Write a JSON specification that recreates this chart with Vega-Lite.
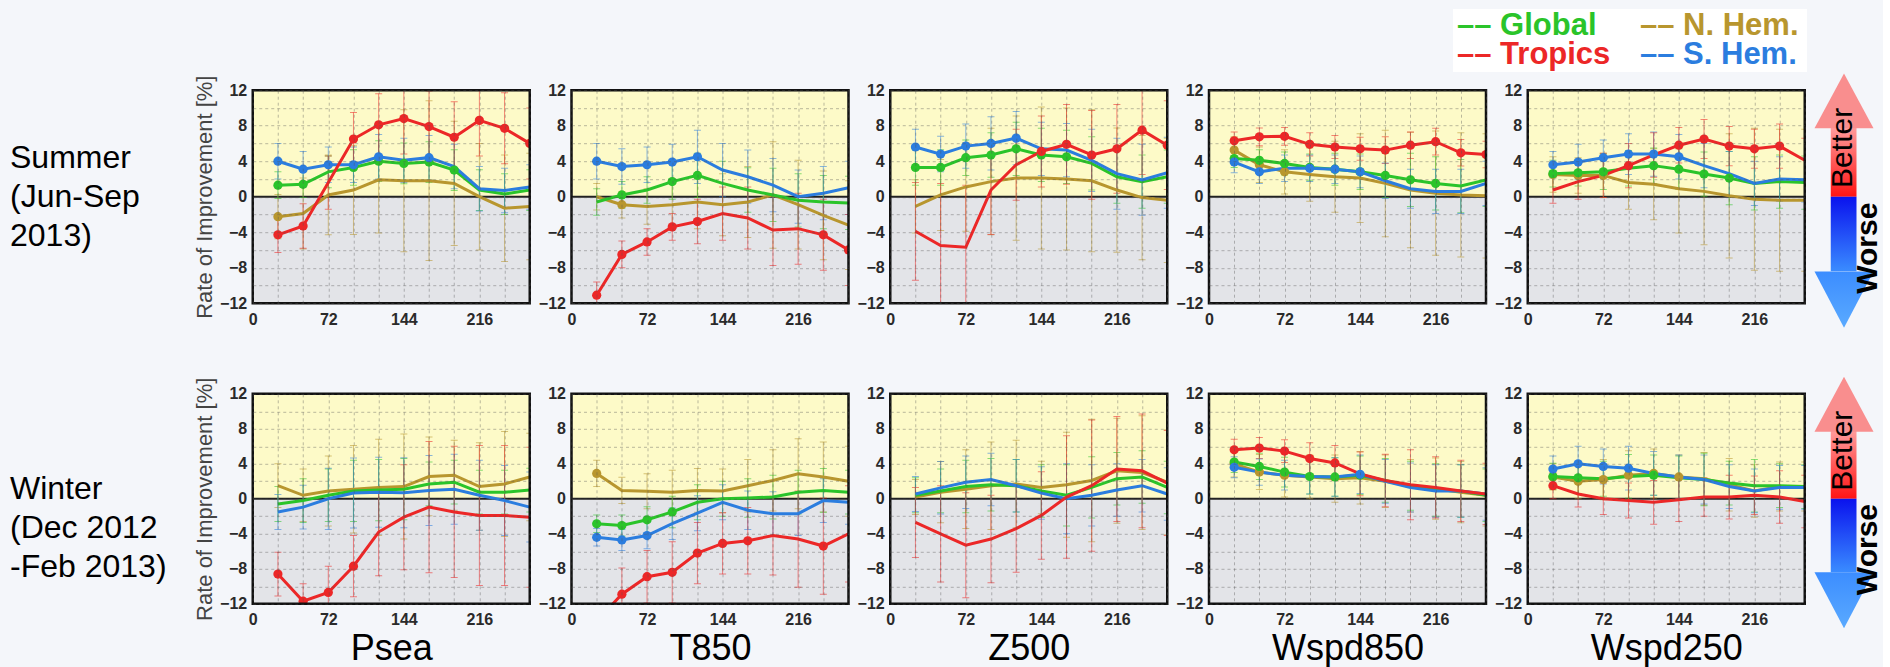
{
"$schema":"https://vega.github.io/schema/vega-lite/v6.json",
"padding":{"left":0,"top":9,"right":0,"bottom":0},
"background":"#f4f6fa",
"config":{"font":"Liberation Sans","view":{"stroke":null},
 "axis":{"labelFontSize":16,"labelFontWeight":"bold","labelColor":"#2a2a2a","labelFlush":false,"labelOverlap":false,"grid":true,"gridColor":"#555","gridOpacity":0.4,"gridDash":[3,3],"domain":false,"ticks":false,"zindex":1},
 "axisX":{"labelPadding":8,"titleFontSize":36,"titleFontWeight":"normal","titleColor":"#000","titlePadding":4},
 "axisY":{"labelPadding":6,"titleFontSize":22,"titleFontWeight":"normal","titleColor":"#444","titlePadding":3}},
"datasets":{
"leg":[{"r":"G","label":"\u2013\u2013 Global"},{"r":"N","label":"\u2013\u2013 N. Hem."},{"r":"T","label":"\u2013\u2013 Tropics"},{"r":"S","label":"\u2013\u2013 S. Hem."}],
"lab":[{"season":"Summer","txt":"Summer\n(Jun-Sep\n\u00a0\u00a02013)"},{"season":"Winter","txt":"Winter\n(Dec 2012\n-Feb 2013)"}],
"d":[
{"s":"S","p":"Psea","r":"N","t":24,"v":-2.25,"e":2.5,"m":1},{"s":"S","p":"Psea","r":"N","t":48,"v":-1.9,"e":4},{"s":"S","p":"Psea","r":"N","t":72,"v":0.2,"e":4.5},{"s":"S","p":"Psea","r":"N","t":96,"v":0.75,"e":5},{"s":"S","p":"Psea","r":"N","t":120,"v":1.9,"e":6},{"s":"S","p":"Psea","r":"N","t":144,"v":1.8,"e":8},{"s":"S","p":"Psea","r":"N","t":168,"v":1.8,"e":9},{"s":"S","p":"Psea","r":"N","t":192,"v":1.5,"e":7},{"s":"S","p":"Psea","r":"N","t":216,"v":0,"e":6},{"s":"S","p":"Psea","r":"N","t":240,"v":-1.3,"e":6},{"s":"S","p":"Psea","r":"N","t":264,"v":-1.1,"e":6},
{"s":"S","p":"Psea","r":"G","t":24,"v":1.3,"e":1.5,"m":1},{"s":"S","p":"Psea","r":"G","t":48,"v":1.4,"e":1.5,"m":1},{"s":"S","p":"Psea","r":"G","t":72,"v":2.8,"e":1.8},{"s":"S","p":"Psea","r":"G","t":96,"v":3.3,"e":2,"m":1},{"s":"S","p":"Psea","r":"G","t":120,"v":4.0,"e":2.3,"m":1},{"s":"S","p":"Psea","r":"G","t":144,"v":3.75,"e":2.3,"m":1},{"s":"S","p":"Psea","r":"G","t":168,"v":3.9,"e":2.3,"m":1},{"s":"S","p":"Psea","r":"G","t":192,"v":3.0,"e":2.3,"m":1},{"s":"S","p":"Psea","r":"G","t":216,"v":0.75,"e":2.3},{"s":"S","p":"Psea","r":"G","t":240,"v":0.3,"e":2.3},{"s":"S","p":"Psea","r":"G","t":264,"v":0.75,"e":2.3},
{"s":"S","p":"Psea","r":"S","t":24,"v":4.0,"e":2,"m":1},{"s":"S","p":"Psea","r":"S","t":48,"v":3.1,"e":2,"m":1},{"s":"S","p":"Psea","r":"S","t":72,"v":3.6,"e":2,"m":1},{"s":"S","p":"Psea","r":"S","t":96,"v":3.6,"e":2,"m":1},{"s":"S","p":"Psea","r":"S","t":120,"v":4.5,"e":2.5,"m":1},{"s":"S","p":"Psea","r":"S","t":144,"v":4.1,"e":2.5},{"s":"S","p":"Psea","r":"S","t":168,"v":4.4,"e":2.5,"m":1},{"s":"S","p":"Psea","r":"S","t":192,"v":3.4,"e":2.5},{"s":"S","p":"Psea","r":"S","t":216,"v":0.9,"e":2.5},{"s":"S","p":"Psea","r":"S","t":240,"v":0.7,"e":2.5},{"s":"S","p":"Psea","r":"S","t":264,"v":1.1,"e":2.5},
{"s":"S","p":"Psea","r":"T","t":24,"v":-4.3,"e":2,"m":1},{"s":"S","p":"Psea","r":"T","t":48,"v":-3.3,"e":2.5,"m":1},{"s":"S","p":"Psea","r":"T","t":72,"v":1.6,"e":3},{"s":"S","p":"Psea","r":"T","t":96,"v":6.5,"e":3,"m":1},{"s":"S","p":"Psea","r":"T","t":120,"v":8.1,"e":3.5,"m":1},{"s":"S","p":"Psea","r":"T","t":144,"v":8.8,"e":4,"m":1},{"s":"S","p":"Psea","r":"T","t":168,"v":7.9,"e":4,"m":1},{"s":"S","p":"Psea","r":"T","t":192,"v":6.7,"e":4,"m":1},{"s":"S","p":"Psea","r":"T","t":216,"v":8.6,"e":4,"m":1},{"s":"S","p":"Psea","r":"T","t":240,"v":7.7,"e":4,"m":1},{"s":"S","p":"Psea","r":"T","t":264,"v":6.0,"e":4,"m":1},

{"s":"S","p":"T850","r":"N","t":24,"v":0,"e":1.5},{"s":"S","p":"T850","r":"N","t":48,"v":-0.9,"e":1.5,"m":1},{"s":"S","p":"T850","r":"N","t":72,"v":-1.1,"e":2},{"s":"S","p":"T850","r":"N","t":96,"v":-0.9,"e":2.5},{"s":"S","p":"T850","r":"N","t":120,"v":-0.6,"e":3},{"s":"S","p":"T850","r":"N","t":144,"v":-0.9,"e":3.5},{"s":"S","p":"T850","r":"N","t":168,"v":-0.6,"e":4},{"s":"S","p":"T850","r":"N","t":192,"v":0.2,"e":6},{"s":"S","p":"T850","r":"N","t":216,"v":-0.9,"e":5},{"s":"S","p":"T850","r":"N","t":240,"v":-2.1,"e":5},{"s":"S","p":"T850","r":"N","t":264,"v":-3.2,"e":5},
{"s":"S","p":"T850","r":"G","t":24,"v":-0.6,"e":1.5},{"s":"S","p":"T850","r":"G","t":48,"v":0.2,"e":1.5,"m":1},{"s":"S","p":"T850","r":"G","t":72,"v":0.75,"e":1.5},{"s":"S","p":"T850","r":"G","t":96,"v":1.7,"e":2,"m":1},{"s":"S","p":"T850","r":"G","t":120,"v":2.4,"e":2.5,"m":1},{"s":"S","p":"T850","r":"G","t":144,"v":1.5,"e":2.5},{"s":"S","p":"T850","r":"G","t":168,"v":0.75,"e":2.5},{"s":"S","p":"T850","r":"G","t":192,"v":0.2,"e":3},{"s":"S","p":"T850","r":"G","t":216,"v":-0.4,"e":3},{"s":"S","p":"T850","r":"G","t":240,"v":-0.6,"e":3},{"s":"S","p":"T850","r":"G","t":264,"v":-0.7,"e":3},
{"s":"S","p":"T850","r":"S","t":24,"v":4.0,"e":2,"m":1},{"s":"S","p":"T850","r":"S","t":48,"v":3.4,"e":2,"m":1},{"s":"S","p":"T850","r":"S","t":72,"v":3.6,"e":2,"m":1},{"s":"S","p":"T850","r":"S","t":96,"v":3.9,"e":2,"m":1},{"s":"S","p":"T850","r":"S","t":120,"v":4.5,"e":3,"m":1},{"s":"S","p":"T850","r":"S","t":144,"v":3.0,"e":3},{"s":"S","p":"T850","r":"S","t":168,"v":2.25,"e":3},{"s":"S","p":"T850","r":"S","t":192,"v":1.3,"e":3},{"s":"S","p":"T850","r":"S","t":216,"v":0,"e":3},{"s":"S","p":"T850","r":"S","t":240,"v":0.4,"e":3},{"s":"S","p":"T850","r":"S","t":264,"v":1.0,"e":3},
{"s":"S","p":"T850","r":"T","t":24,"v":-11.1,"e":1.5,"m":1},{"s":"S","p":"T850","r":"T","t":48,"v":-6.5,"e":1.5,"m":1},{"s":"S","p":"T850","r":"T","t":72,"v":-5.1,"e":1.5,"m":1},{"s":"S","p":"T850","r":"T","t":96,"v":-3.4,"e":1.5,"m":1},{"s":"S","p":"T850","r":"T","t":120,"v":-2.8,"e":2.5,"m":1},{"s":"S","p":"T850","r":"T","t":144,"v":-1.9,"e":3},{"s":"S","p":"T850","r":"T","t":168,"v":-2.4,"e":3.5},{"s":"S","p":"T850","r":"T","t":192,"v":-3.75,"e":4},{"s":"S","p":"T850","r":"T","t":216,"v":-3.6,"e":4},{"s":"S","p":"T850","r":"T","t":240,"v":-4.3,"e":4,"m":1},{"s":"S","p":"T850","r":"T","t":264,"v":-6.0,"e":4,"m":1},

{"s":"S","p":"Z500","r":"N","t":24,"v":-1.1,"e":3},{"s":"S","p":"Z500","r":"N","t":48,"v":0.2,"e":4},{"s":"S","p":"Z500","r":"N","t":72,"v":1.1,"e":5},{"s":"S","p":"Z500","r":"N","t":96,"v":1.7,"e":6},{"s":"S","p":"Z500","r":"N","t":120,"v":2.1,"e":7},{"s":"S","p":"Z500","r":"N","t":144,"v":2.1,"e":8},{"s":"S","p":"Z500","r":"N","t":168,"v":2.0,"e":8},{"s":"S","p":"Z500","r":"N","t":192,"v":1.8,"e":8},{"s":"S","p":"Z500","r":"N","t":216,"v":0.75,"e":7},{"s":"S","p":"Z500","r":"N","t":240,"v":-0.1,"e":7},{"s":"S","p":"Z500","r":"N","t":264,"v":-0.4,"e":7},
{"s":"S","p":"Z500","r":"G","t":24,"v":3.3,"e":2,"m":1},{"s":"S","p":"Z500","r":"G","t":48,"v":3.3,"e":2,"m":1},{"s":"S","p":"Z500","r":"G","t":72,"v":4.4,"e":2,"m":1},{"s":"S","p":"Z500","r":"G","t":96,"v":4.7,"e":2.5,"m":1},{"s":"S","p":"Z500","r":"G","t":120,"v":5.4,"e":3,"m":1},{"s":"S","p":"Z500","r":"G","t":144,"v":4.7,"e":3,"m":1},{"s":"S","p":"Z500","r":"G","t":168,"v":4.5,"e":3,"m":1},{"s":"S","p":"Z500","r":"G","t":192,"v":3.75,"e":3},{"s":"S","p":"Z500","r":"G","t":216,"v":2.25,"e":3},{"s":"S","p":"Z500","r":"G","t":240,"v":1.7,"e":3},{"s":"S","p":"Z500","r":"G","t":264,"v":2.25,"e":3},
{"s":"S","p":"Z500","r":"S","t":24,"v":5.6,"e":2,"m":1},{"s":"S","p":"Z500","r":"S","t":48,"v":4.8,"e":2,"m":1},{"s":"S","p":"Z500","r":"S","t":72,"v":5.7,"e":2.5,"m":1},{"s":"S","p":"Z500","r":"S","t":96,"v":6.0,"e":3,"m":1},{"s":"S","p":"Z500","r":"S","t":120,"v":6.6,"e":3,"m":1},{"s":"S","p":"Z500","r":"S","t":144,"v":5.4,"e":3},{"s":"S","p":"Z500","r":"S","t":168,"v":5.25,"e":3},{"s":"S","p":"Z500","r":"S","t":192,"v":4.1,"e":3.5},{"s":"S","p":"Z500","r":"S","t":216,"v":2.6,"e":4},{"s":"S","p":"Z500","r":"S","t":240,"v":1.9,"e":4},{"s":"S","p":"Z500","r":"S","t":264,"v":2.7,"e":4},
{"s":"S","p":"Z500","r":"T","t":24,"v":-3.9,"e":5.5},{"s":"S","p":"Z500","r":"T","t":48,"v":-5.5,"e":7},{"s":"S","p":"Z500","r":"T","t":72,"v":-5.7,"e":7},{"s":"S","p":"Z500","r":"T","t":96,"v":0.75,"e":5},{"s":"S","p":"Z500","r":"T","t":120,"v":3.6,"e":4},{"s":"S","p":"Z500","r":"T","t":144,"v":5.1,"e":4,"m":1},{"s":"S","p":"Z500","r":"T","t":168,"v":5.9,"e":4.5,"m":1},{"s":"S","p":"Z500","r":"T","t":192,"v":4.7,"e":5,"m":1},{"s":"S","p":"Z500","r":"T","t":216,"v":5.4,"e":5,"m":1},{"s":"S","p":"Z500","r":"T","t":240,"v":7.5,"e":5,"m":1},{"s":"S","p":"Z500","r":"T","t":264,"v":5.8,"e":5,"m":1},

{"s":"S","p":"W850","r":"N","t":24,"v":5.25,"e":1.5,"m":1},{"s":"S","p":"W850","r":"N","t":48,"v":3.6,"e":2,"m":1},{"s":"S","p":"W850","r":"N","t":72,"v":2.8,"e":2.5,"m":1},{"s":"S","p":"W850","r":"N","t":96,"v":2.5,"e":3},{"s":"S","p":"W850","r":"N","t":120,"v":2.25,"e":4},{"s":"S","p":"W850","r":"N","t":144,"v":2.1,"e":5},{"s":"S","p":"W850","r":"N","t":168,"v":1.5,"e":6},{"s":"S","p":"W850","r":"N","t":192,"v":0.75,"e":6.5},{"s":"S","p":"W850","r":"N","t":216,"v":0.4,"e":7},{"s":"S","p":"W850","r":"N","t":240,"v":0.2,"e":7},{"s":"S","p":"W850","r":"N","t":264,"v":0.1,"e":7},
{"s":"S","p":"W850","r":"G","t":24,"v":4.3,"e":1,"m":1},{"s":"S","p":"W850","r":"G","t":48,"v":4.1,"e":1.2,"m":1},{"s":"S","p":"W850","r":"G","t":72,"v":3.75,"e":1.3,"m":1},{"s":"S","p":"W850","r":"G","t":96,"v":3.3,"e":1.5,"m":1},{"s":"S","p":"W850","r":"G","t":120,"v":3.1,"e":1.8,"m":1},{"s":"S","p":"W850","r":"G","t":144,"v":2.8,"e":2,"m":1},{"s":"S","p":"W850","r":"G","t":168,"v":2.4,"e":2.5,"m":1},{"s":"S","p":"W850","r":"G","t":192,"v":1.9,"e":3,"m":1},{"s":"S","p":"W850","r":"G","t":216,"v":1.5,"e":3,"m":1},{"s":"S","p":"W850","r":"G","t":240,"v":1.2,"e":3},{"s":"S","p":"W850","r":"G","t":264,"v":1.9,"e":3},
{"s":"S","p":"W850","r":"S","t":24,"v":3.9,"e":1.2,"m":1},{"s":"S","p":"W850","r":"S","t":48,"v":2.8,"e":1.3,"m":1},{"s":"S","p":"W850","r":"S","t":72,"v":3.2,"e":1.5},{"s":"S","p":"W850","r":"S","t":96,"v":3.2,"e":1.5,"m":1},{"s":"S","p":"W850","r":"S","t":120,"v":3.1,"e":1.6,"m":1},{"s":"S","p":"W850","r":"S","t":144,"v":2.8,"e":1.8,"m":1},{"s":"S","p":"W850","r":"S","t":168,"v":1.8,"e":2},{"s":"S","p":"W850","r":"S","t":192,"v":0.9,"e":2.2},{"s":"S","p":"W850","r":"S","t":216,"v":0.6,"e":2.5},{"s":"S","p":"W850","r":"S","t":240,"v":0.6,"e":2.5},{"s":"S","p":"W850","r":"S","t":264,"v":1.5,"e":2.5},
{"s":"S","p":"W850","r":"T","t":24,"v":6.3,"e":1,"m":1},{"s":"S","p":"W850","r":"T","t":48,"v":6.75,"e":1,"m":1},{"s":"S","p":"W850","r":"T","t":72,"v":6.8,"e":1,"m":1},{"s":"S","p":"W850","r":"T","t":96,"v":5.9,"e":1.3,"m":1},{"s":"S","p":"W850","r":"T","t":120,"v":5.6,"e":1.3,"m":1},{"s":"S","p":"W850","r":"T","t":144,"v":5.4,"e":1.3,"m":1},{"s":"S","p":"W850","r":"T","t":168,"v":5.25,"e":1.5,"m":1},{"s":"S","p":"W850","r":"T","t":192,"v":5.8,"e":1.5,"m":1},{"s":"S","p":"W850","r":"T","t":216,"v":6.2,"e":1.5,"m":1},{"s":"S","p":"W850","r":"T","t":240,"v":4.95,"e":1.5,"m":1},{"s":"S","p":"W850","r":"T","t":264,"v":4.75,"e":1.5,"m":1},

{"s":"S","p":"W250","r":"N","t":24,"v":2.5,"e":2,"m":1},{"s":"S","p":"W250","r":"N","t":48,"v":2.4,"e":2,"m":1},{"s":"S","p":"W250","r":"N","t":72,"v":2.4,"e":2.5,"m":1},{"s":"S","p":"W250","r":"N","t":96,"v":1.6,"e":3},{"s":"S","p":"W250","r":"N","t":120,"v":1.4,"e":4},{"s":"S","p":"W250","r":"N","t":144,"v":0.9,"e":5},{"s":"S","p":"W250","r":"N","t":168,"v":0.6,"e":6},{"s":"S","p":"W250","r":"N","t":192,"v":0.1,"e":7},{"s":"S","p":"W250","r":"N","t":216,"v":-0.3,"e":8},{"s":"S","p":"W250","r":"N","t":240,"v":-0.4,"e":8},{"s":"S","p":"W250","r":"N","t":264,"v":-0.4,"e":8},
{"s":"S","p":"W250","r":"G","t":24,"v":2.6,"e":1.5,"m":1},{"s":"S","p":"W250","r":"G","t":48,"v":2.7,"e":1.5,"m":1},{"s":"S","p":"W250","r":"G","t":72,"v":2.8,"e":2,"m":1},{"s":"S","p":"W250","r":"G","t":96,"v":3.2,"e":2},{"s":"S","p":"W250","r":"G","t":120,"v":3.5,"e":2,"m":1},{"s":"S","p":"W250","r":"G","t":144,"v":3.1,"e":2.3,"m":1},{"s":"S","p":"W250","r":"G","t":168,"v":2.55,"e":2.5,"m":1},{"s":"S","p":"W250","r":"G","t":192,"v":2.1,"e":3,"m":1},{"s":"S","p":"W250","r":"G","t":216,"v":1.5,"e":3},{"s":"S","p":"W250","r":"G","t":240,"v":1.7,"e":3},{"s":"S","p":"W250","r":"G","t":264,"v":1.6,"e":3},
{"s":"S","p":"W250","r":"S","t":24,"v":3.6,"e":1.5,"m":1},{"s":"S","p":"W250","r":"S","t":48,"v":3.9,"e":2,"m":1},{"s":"S","p":"W250","r":"S","t":72,"v":4.4,"e":2,"m":1},{"s":"S","p":"W250","r":"S","t":96,"v":4.8,"e":2.3,"m":1},{"s":"S","p":"W250","r":"S","t":120,"v":4.8,"e":2.5,"m":1},{"s":"S","p":"W250","r":"S","t":144,"v":4.5,"e":2.5,"m":1},{"s":"S","p":"W250","r":"S","t":168,"v":3.5,"e":2.5},{"s":"S","p":"W250","r":"S","t":192,"v":2.6,"e":2.5},{"s":"S","p":"W250","r":"S","t":216,"v":1.5,"e":2.5},{"s":"S","p":"W250","r":"S","t":240,"v":2.0,"e":2.5},{"s":"S","p":"W250","r":"S","t":264,"v":1.9,"e":2.5},
{"s":"S","p":"W250","r":"T","t":24,"v":0.75,"e":1.5},{"s":"S","p":"W250","r":"T","t":48,"v":1.7,"e":2},{"s":"S","p":"W250","r":"T","t":72,"v":2.4,"e":2.5},{"s":"S","p":"W250","r":"T","t":96,"v":3.5,"e":2.5,"m":1},{"s":"S","p":"W250","r":"T","t":120,"v":4.7,"e":2.5},{"s":"S","p":"W250","r":"T","t":144,"v":5.8,"e":2,"m":1},{"s":"S","p":"W250","r":"T","t":168,"v":6.5,"e":2.2,"m":1},{"s":"S","p":"W250","r":"T","t":192,"v":5.7,"e":2.2,"m":1},{"s":"S","p":"W250","r":"T","t":216,"v":5.4,"e":2.2,"m":1},{"s":"S","p":"W250","r":"T","t":240,"v":5.7,"e":2.5,"m":1},{"s":"S","p":"W250","r":"T","t":264,"v":4.1,"e":2.5},

{"s":"W","p":"Psea","r":"N","t":24,"v":1.5,"e":2.5},{"s":"W","p":"Psea","r":"N","t":48,"v":0.4,"e":3},{"s":"W","p":"Psea","r":"N","t":72,"v":0.9,"e":4},{"s":"W","p":"Psea","r":"N","t":96,"v":1.1,"e":5},{"s":"W","p":"Psea","r":"N","t":120,"v":1.3,"e":5.5},{"s":"W","p":"Psea","r":"N","t":144,"v":1.4,"e":6},{"s":"W","p":"Psea","r":"N","t":168,"v":2.55,"e":4.5},{"s":"W","p":"Psea","r":"N","t":192,"v":2.7,"e":4},{"s":"W","p":"Psea","r":"N","t":216,"v":1.4,"e":5},{"s":"W","p":"Psea","r":"N","t":240,"v":1.7,"e":6},{"s":"W","p":"Psea","r":"N","t":264,"v":2.5,"e":5},
{"s":"W","p":"Psea","r":"G","t":24,"v":-0.6,"e":2},{"s":"W","p":"Psea","r":"G","t":48,"v":-0.2,"e":2.5},{"s":"W","p":"Psea","r":"G","t":72,"v":0.4,"e":3},{"s":"W","p":"Psea","r":"G","t":96,"v":0.9,"e":3.5},{"s":"W","p":"Psea","r":"G","t":120,"v":1.0,"e":3.5},{"s":"W","p":"Psea","r":"G","t":144,"v":1.1,"e":3.5},{"s":"W","p":"Psea","r":"G","t":168,"v":1.7,"e":2.5},{"s":"W","p":"Psea","r":"G","t":192,"v":1.9,"e":2.5},{"s":"W","p":"Psea","r":"G","t":216,"v":0.75,"e":2.5},{"s":"W","p":"Psea","r":"G","t":240,"v":0.75,"e":2.5},{"s":"W","p":"Psea","r":"G","t":264,"v":1.0,"e":2.5},
{"s":"W","p":"Psea","r":"S","t":24,"v":-1.5,"e":2},{"s":"W","p":"Psea","r":"S","t":48,"v":-0.95,"e":2.5},{"s":"W","p":"Psea","r":"S","t":72,"v":0,"e":3.5},{"s":"W","p":"Psea","r":"S","t":96,"v":0.65,"e":4},{"s":"W","p":"Psea","r":"S","t":120,"v":0.75,"e":4},{"s":"W","p":"Psea","r":"S","t":144,"v":0.7,"e":4},{"s":"W","p":"Psea","r":"S","t":168,"v":0.95,"e":4},{"s":"W","p":"Psea","r":"S","t":192,"v":1.1,"e":4},{"s":"W","p":"Psea","r":"S","t":216,"v":0.4,"e":4},{"s":"W","p":"Psea","r":"S","t":240,"v":-0.2,"e":4},{"s":"W","p":"Psea","r":"S","t":264,"v":-0.95,"e":4},
{"s":"W","p":"Psea","r":"T","t":24,"v":-8.6,"e":2.5,"m":1},{"s":"W","p":"Psea","r":"T","t":48,"v":-11.7,"e":2,"m":1},{"s":"W","p":"Psea","r":"T","t":72,"v":-10.7,"e":3,"m":1},{"s":"W","p":"Psea","r":"T","t":96,"v":-7.7,"e":3.5,"m":1},{"s":"W","p":"Psea","r":"T","t":120,"v":-3.8,"e":5},{"s":"W","p":"Psea","r":"T","t":144,"v":-2.1,"e":6},{"s":"W","p":"Psea","r":"T","t":168,"v":-0.95,"e":7.5},{"s":"W","p":"Psea","r":"T","t":192,"v":-1.5,"e":7.5},{"s":"W","p":"Psea","r":"T","t":216,"v":-1.9,"e":8},{"s":"W","p":"Psea","r":"T","t":240,"v":-1.9,"e":8},{"s":"W","p":"Psea","r":"T","t":264,"v":-2.1,"e":8},

{"s":"W","p":"T850","r":"N","t":24,"v":2.9,"e":1.5,"m":1},{"s":"W","p":"T850","r":"N","t":48,"v":0.95,"e":1.5},{"s":"W","p":"T850","r":"N","t":72,"v":0.85,"e":2},{"s":"W","p":"T850","r":"N","t":96,"v":0.75,"e":2.5},{"s":"W","p":"T850","r":"N","t":120,"v":0.95,"e":2.5},{"s":"W","p":"T850","r":"N","t":144,"v":0.9,"e":2.5},{"s":"W","p":"T850","r":"N","t":168,"v":1.5,"e":3},{"s":"W","p":"T850","r":"N","t":192,"v":2.1,"e":3.5},{"s":"W","p":"T850","r":"N","t":216,"v":2.85,"e":4},{"s":"W","p":"T850","r":"N","t":240,"v":2.5,"e":4},{"s":"W","p":"T850","r":"N","t":264,"v":2.0,"e":4},
{"s":"W","p":"T850","r":"G","t":24,"v":-2.85,"e":1,"m":1},{"s":"W","p":"T850","r":"G","t":48,"v":-3.05,"e":1.2,"m":1},{"s":"W","p":"T850","r":"G","t":72,"v":-2.4,"e":1.5,"m":1},{"s":"W","p":"T850","r":"G","t":96,"v":-1.5,"e":1.8,"m":1},{"s":"W","p":"T850","r":"G","t":120,"v":-0.4,"e":2},{"s":"W","p":"T850","r":"G","t":144,"v":0,"e":2},{"s":"W","p":"T850","r":"G","t":168,"v":0.1,"e":2.2},{"s":"W","p":"T850","r":"G","t":192,"v":0.2,"e":2.5},{"s":"W","p":"T850","r":"G","t":216,"v":0.75,"e":2.5},{"s":"W","p":"T850","r":"G","t":240,"v":0.95,"e":2.5},{"s":"W","p":"T850","r":"G","t":264,"v":0.75,"e":2.5},
{"s":"W","p":"T850","r":"S","t":24,"v":-4.4,"e":1,"m":1},{"s":"W","p":"T850","r":"S","t":48,"v":-4.7,"e":1.2,"m":1},{"s":"W","p":"T850","r":"S","t":72,"v":-4.2,"e":1.5,"m":1},{"s":"W","p":"T850","r":"S","t":96,"v":-2.85,"e":1.8},{"s":"W","p":"T850","r":"S","t":120,"v":-1.65,"e":2},{"s":"W","p":"T850","r":"S","t":144,"v":-0.4,"e":2},{"s":"W","p":"T850","r":"S","t":168,"v":-1.3,"e":2.2},{"s":"W","p":"T850","r":"S","t":192,"v":-1.7,"e":2.5},{"s":"W","p":"T850","r":"S","t":216,"v":-1.7,"e":2.5},{"s":"W","p":"T850","r":"S","t":240,"v":-0.2,"e":2.5},{"s":"W","p":"T850","r":"S","t":264,"v":-0.4,"e":2.5},
{"s":"W","p":"T850","r":"T","t":24,"v":-14,"e":2},{"s":"W","p":"T850","r":"T","t":48,"v":-10.9,"e":3,"m":1},{"s":"W","p":"T850","r":"T","t":72,"v":-8.9,"e":3,"m":1},{"s":"W","p":"T850","r":"T","t":96,"v":-8.4,"e":3.5,"m":1},{"s":"W","p":"T850","r":"T","t":120,"v":-6.2,"e":3.5,"m":1},{"s":"W","p":"T850","r":"T","t":144,"v":-5.1,"e":3.5,"m":1},{"s":"W","p":"T850","r":"T","t":168,"v":-4.8,"e":3.8,"m":1},{"s":"W","p":"T850","r":"T","t":192,"v":-4.2,"e":4.5},{"s":"W","p":"T850","r":"T","t":216,"v":-4.6,"e":5.5},{"s":"W","p":"T850","r":"T","t":240,"v":-5.4,"e":5.5,"m":1},{"s":"W","p":"T850","r":"T","t":264,"v":-4.0,"e":5.5},

{"s":"W","p":"Z500","r":"N","t":24,"v":0.2,"e":2},{"s":"W","p":"Z500","r":"N","t":48,"v":0.75,"e":3.5},{"s":"W","p":"Z500","r":"N","t":72,"v":1.1,"e":4.5},{"s":"W","p":"Z500","r":"N","t":96,"v":1.5,"e":5},{"s":"W","p":"Z500","r":"N","t":120,"v":1.7,"e":5},{"s":"W","p":"Z500","r":"N","t":144,"v":1.3,"e":3},{"s":"W","p":"Z500","r":"N","t":168,"v":1.6,"e":6},{"s":"W","p":"Z500","r":"N","t":192,"v":2.1,"e":7},{"s":"W","p":"Z500","r":"N","t":216,"v":3.2,"e":6},{"s":"W","p":"Z500","r":"N","t":240,"v":3.0,"e":6.5},{"s":"W","p":"Z500","r":"N","t":264,"v":1.9,"e":6},
{"s":"W","p":"Z500","r":"G","t":24,"v":0.4,"e":2},{"s":"W","p":"Z500","r":"G","t":48,"v":0.9,"e":2.5},{"s":"W","p":"Z500","r":"G","t":72,"v":1.4,"e":3},{"s":"W","p":"Z500","r":"G","t":96,"v":1.6,"e":3},{"s":"W","p":"Z500","r":"G","t":120,"v":1.5,"e":3},{"s":"W","p":"Z500","r":"G","t":144,"v":0.9,"e":3},{"s":"W","p":"Z500","r":"G","t":168,"v":0.4,"e":3.5},{"s":"W","p":"Z500","r":"G","t":192,"v":1.3,"e":3.5},{"s":"W","p":"Z500","r":"G","t":216,"v":2.3,"e":3},{"s":"W","p":"Z500","r":"G","t":240,"v":2.5,"e":3},{"s":"W","p":"Z500","r":"G","t":264,"v":1.3,"e":3},
{"s":"W","p":"Z500","r":"S","t":24,"v":0.55,"e":2},{"s":"W","p":"Z500","r":"S","t":48,"v":1.25,"e":3},{"s":"W","p":"Z500","r":"S","t":72,"v":1.9,"e":3},{"s":"W","p":"Z500","r":"S","t":96,"v":2.2,"e":3},{"s":"W","p":"Z500","r":"S","t":120,"v":1.5,"e":3},{"s":"W","p":"Z500","r":"S","t":144,"v":0.65,"e":3},{"s":"W","p":"Z500","r":"S","t":168,"v":0,"e":4},{"s":"W","p":"Z500","r":"S","t":192,"v":0.4,"e":3.5},{"s":"W","p":"Z500","r":"S","t":216,"v":1.0,"e":3},{"s":"W","p":"Z500","r":"S","t":240,"v":1.5,"e":3},{"s":"W","p":"Z500","r":"S","t":264,"v":0.55,"e":3},
{"s":"W","p":"Z500","r":"T","t":24,"v":-2.7,"e":4},{"s":"W","p":"Z500","r":"T","t":48,"v":-4.0,"e":5.5},{"s":"W","p":"Z500","r":"T","t":72,"v":-5.3,"e":6},{"s":"W","p":"Z500","r":"T","t":96,"v":-4.6,"e":5},{"s":"W","p":"Z500","r":"T","t":120,"v":-3.4,"e":5},{"s":"W","p":"Z500","r":"T","t":144,"v":-1.9,"e":5},{"s":"W","p":"Z500","r":"T","t":168,"v":0.2,"e":7},{"s":"W","p":"Z500","r":"T","t":192,"v":1.5,"e":7.5},{"s":"W","p":"Z500","r":"T","t":216,"v":3.4,"e":6},{"s":"W","p":"Z500","r":"T","t":240,"v":3.2,"e":6.5},{"s":"W","p":"Z500","r":"T","t":264,"v":1.8,"e":6},

{"s":"W","p":"W850","r":"N","t":24,"v":4.0,"e":1.5,"m":1},{"s":"W","p":"W850","r":"N","t":48,"v":3.05,"e":2,"m":1},{"s":"W","p":"W850","r":"N","t":72,"v":2.7,"e":2.5,"m":1},{"s":"W","p":"W850","r":"N","t":96,"v":2.5,"e":2.5},{"s":"W","p":"W850","r":"N","t":120,"v":2.3,"e":2.7},{"s":"W","p":"W850","r":"N","t":144,"v":2.4,"e":3},{"s":"W","p":"W850","r":"N","t":168,"v":2.0,"e":3},{"s":"W","p":"W850","r":"N","t":192,"v":1.5,"e":3},{"s":"W","p":"W850","r":"N","t":216,"v":1.15,"e":3.5},{"s":"W","p":"W850","r":"N","t":240,"v":0.75,"e":3.5},{"s":"W","p":"W850","r":"N","t":264,"v":0.4,"e":3.5},
{"s":"W","p":"W850","r":"G","t":24,"v":4.2,"e":1.2,"m":1},{"s":"W","p":"W850","r":"G","t":48,"v":3.7,"e":1.5,"m":1},{"s":"W","p":"W850","r":"G","t":72,"v":3.05,"e":1.7,"m":1},{"s":"W","p":"W850","r":"G","t":96,"v":2.55,"e":2,"m":1},{"s":"W","p":"W850","r":"G","t":120,"v":2.5,"e":2.2,"m":1},{"s":"W","p":"W850","r":"G","t":144,"v":2.7,"e":2.2,"m":1},{"s":"W","p":"W850","r":"G","t":168,"v":2.1,"e":2.5},{"s":"W","p":"W850","r":"G","t":192,"v":1.5,"e":2.8},{"s":"W","p":"W850","r":"G","t":216,"v":1.0,"e":3},{"s":"W","p":"W850","r":"G","t":240,"v":0.9,"e":3},{"s":"W","p":"W850","r":"G","t":264,"v":0.4,"e":3},
{"s":"W","p":"W850","r":"S","t":24,"v":3.6,"e":1.2,"m":1},{"s":"W","p":"W850","r":"S","t":48,"v":3.05,"e":1.5},{"s":"W","p":"W850","r":"S","t":72,"v":2.7,"e":1.7},{"s":"W","p":"W850","r":"S","t":96,"v":2.55,"e":2},{"s":"W","p":"W850","r":"S","t":120,"v":2.5,"e":2.2},{"s":"W","p":"W850","r":"S","t":144,"v":2.8,"e":2.2,"m":1},{"s":"W","p":"W850","r":"S","t":168,"v":2.0,"e":2.5},{"s":"W","p":"W850","r":"S","t":192,"v":1.3,"e":2.8},{"s":"W","p":"W850","r":"S","t":216,"v":0.9,"e":3},{"s":"W","p":"W850","r":"S","t":240,"v":0.9,"e":3},{"s":"W","p":"W850","r":"S","t":264,"v":0.55,"e":3},
{"s":"W","p":"W850","r":"T","t":24,"v":5.6,"e":1.2,"m":1},{"s":"W","p":"W850","r":"T","t":48,"v":5.8,"e":1.2,"m":1},{"s":"W","p":"W850","r":"T","t":72,"v":5.45,"e":1.3,"m":1},{"s":"W","p":"W850","r":"T","t":96,"v":4.6,"e":1.8,"m":1},{"s":"W","p":"W850","r":"T","t":120,"v":4.1,"e":2,"m":1},{"s":"W","p":"W850","r":"T","t":144,"v":2.85,"e":2.5},{"s":"W","p":"W850","r":"T","t":168,"v":2.1,"e":3},{"s":"W","p":"W850","r":"T","t":192,"v":1.6,"e":4},{"s":"W","p":"W850","r":"T","t":216,"v":1.3,"e":3.5},{"s":"W","p":"W850","r":"T","t":240,"v":0.9,"e":3.5},{"s":"W","p":"W850","r":"T","t":264,"v":0.55,"e":3.5},

{"s":"W","p":"W250","r":"N","t":24,"v":2.5,"e":1.5,"m":1},{"s":"W","p":"W250","r":"N","t":48,"v":2.0,"e":2,"m":1},{"s":"W","p":"W250","r":"N","t":72,"v":2.2,"e":2.3,"m":1},{"s":"W","p":"W250","r":"N","t":96,"v":2.7,"e":2.8,"m":1},{"s":"W","p":"W250","r":"N","t":120,"v":2.9,"e":2.8,"m":1},{"s":"W","p":"W250","r":"N","t":144,"v":2.5,"e":2.5,"m":1},{"s":"W","p":"W250","r":"N","t":168,"v":2.3,"e":3},{"s":"W","p":"W250","r":"N","t":192,"v":1.6,"e":3},{"s":"W","p":"W250","r":"N","t":216,"v":0.9,"e":3},{"s":"W","p":"W250","r":"N","t":240,"v":1.4,"e":2.8},{"s":"W","p":"W250","r":"N","t":264,"v":1.4,"e":2.8},
{"s":"W","p":"W250","r":"G","t":24,"v":2.55,"e":1.5,"m":1},{"s":"W","p":"W250","r":"G","t":48,"v":2.4,"e":1.8,"m":1},{"s":"W","p":"W250","r":"G","t":72,"v":2.3,"e":2},{"s":"W","p":"W250","r":"G","t":96,"v":2.55,"e":2.5},{"s":"W","p":"W250","r":"G","t":120,"v":2.7,"e":2.3,"m":1},{"s":"W","p":"W250","r":"G","t":144,"v":2.4,"e":2.5},{"s":"W","p":"W250","r":"G","t":168,"v":2.2,"e":3},{"s":"W","p":"W250","r":"G","t":192,"v":1.8,"e":2.5},{"s":"W","p":"W250","r":"G","t":216,"v":1.5,"e":3},{"s":"W","p":"W250","r":"G","t":240,"v":1.5,"e":2.5},{"s":"W","p":"W250","r":"G","t":264,"v":1.4,"e":2.5},
{"s":"W","p":"W250","r":"S","t":24,"v":3.4,"e":1.5,"m":1},{"s":"W","p":"W250","r":"S","t":48,"v":4.0,"e":2,"m":1},{"s":"W","p":"W250","r":"S","t":72,"v":3.7,"e":2,"m":1},{"s":"W","p":"W250","r":"S","t":96,"v":3.5,"e":2.5,"m":1},{"s":"W","p":"W250","r":"S","t":120,"v":2.9,"e":2.5},{"s":"W","p":"W250","r":"S","t":144,"v":2.5,"e":2.5},{"s":"W","p":"W250","r":"S","t":168,"v":2.2,"e":2.8},{"s":"W","p":"W250","r":"S","t":192,"v":1.4,"e":2.5},{"s":"W","p":"W250","r":"S","t":216,"v":0.9,"e":2.5},{"s":"W","p":"W250","r":"S","t":240,"v":1.3,"e":2.5},{"s":"W","p":"W250","r":"S","t":264,"v":1.3,"e":2.5},
{"s":"W","p":"W250","r":"T","t":24,"v":1.5,"e":1.5,"m":1},{"s":"W","p":"W250","r":"T","t":48,"v":0.55,"e":1.5},{"s":"W","p":"W250","r":"T","t":72,"v":0,"e":1.8},{"s":"W","p":"W250","r":"T","t":96,"v":-0.2,"e":2},{"s":"W","p":"W250","r":"T","t":120,"v":-0.4,"e":2.5},{"s":"W","p":"W250","r":"T","t":144,"v":-0.1,"e":2.5},{"s":"W","p":"W250","r":"T","t":168,"v":0.2,"e":2.2},{"s":"W","p":"W250","r":"T","t":192,"v":0.2,"e":2.5},{"s":"W","p":"W250","r":"T","t":216,"v":0.4,"e":2.2},{"s":"W","p":"W250","r":"T","t":240,"v":0.2,"e":3},{"s":"W","p":"W250","r":"T","t":264,"v":-0.3,"e":3}
]},
"vconcat":[
{"hconcat":[
 {"width":1453,"height":63,"view":{"fill":"#f4f6fa"},"data":{"values":[{}]},"mark":{"type":"text","text":""}},
 {"width":177,"height":63,"view":{"fill":"white"},"data":{"name":"leg"},"transform":[{"filter":"datum.r=='G'||datum.r=='T'"}],
  "mark":{"type":"text","align":"left","baseline":"alphabetic","fontSize":31,"fontWeight":"bold","dx":4,"dy":9},
  "encoding":{"x":{"datum":0,"type":"quantitative","scale":{"domain":[0,1]},"axis":null},"y":{"field":"r","type":"nominal","scale":{"type":"point","domain":["G","T"],"padding":0.6},"axis":null},"text":{"field":"label"},"color":{"field":"r","type":"nominal","scale":{"domain":["G","T","N","S"],"range":["#2ac42a","#ec2727","#b8962e","#2b7ddf"]},"legend":null}}},
 {"width":177,"height":63,"view":{"fill":"white"},"data":{"name":"leg"},"transform":[{"filter":"datum.r=='N'||datum.r=='S'"}],
  "mark":{"type":"text","align":"left","baseline":"alphabetic","fontSize":31,"fontWeight":"bold","dx":10,"dy":9},
  "encoding":{"x":{"datum":0,"type":"quantitative","scale":{"domain":[0,1]},"axis":null},"y":{"field":"r","type":"nominal","scale":{"type":"point","domain":["N","S"],"padding":0.6},"axis":null},"text":{"field":"label"},"color":{"field":"r","type":"nominal","scale":{"domain":["G","T","N","S"],"range":["#2ac42a","#ec2727","#b8962e","#2b7ddf"]},"legend":null}}}
],"spacing":0,"bounds":"flush"},
{"vconcat":[
 {"hconcat":[
 {"width":210.25,"height":213,"view":{"fill":"#f4f6fa"},"data":{"name":"lab"},"transform":[{"filter":"datum.season=='Summer'"}],
  "mark":{"type":"text","align":"left","baseline":"middle","fontSize":32,"lineHeight":39,"lineBreak":"\n","dx":10,"dy":-39,"color":"#000"},
  "encoding":{"x":{"datum":0,"type":"quantitative","scale":{"domain":[0,1]},"axis":null},"text":{"field":"txt"}}},
{"width":277,"height":213,"layer":[
{"data":{"values":[{}]},"mark":{"type":"rect","fill":"#fdfac8"},"encoding":{"x":{"datum":0,"type":"quantitative"},"x2":{"datum":264},"y":{"datum":12,"type":"quantitative"},"y2":{"datum":0}}},
{"data":{"values":[{}]},"mark":{"type":"rect","fill":"#e3e4e8"},"encoding":{"x":{"datum":0,"type":"quantitative"},"x2":{"datum":264},"y":{"datum":0,"type":"quantitative"},"y2":{"datum":-12}}},
{"data":{"values":[{}]},"mark":{"type":"rule","color":"#222","strokeWidth":2},"encoding":{"x":{"datum":0,"type":"quantitative"},"x2":{"datum":264},"y":{"datum":0,"type":"quantitative"}}},
{"data":{"name":"d"},"transform":[{"filter":"datum.s=='S'&&datum.p=='Psea'"}],
"encoding":{"x":{"field":"t","type":"quantitative","scale":{"domain":[0,264],"nice":false,"zero":false},"axis":{"values":[0,24,48,72,96,120,144,168,192,216,240,264],"tickCount":100,"format":"d","labelExpr":"datum.value%72==0?datum.label:''","title":null,"labelOverlap":false,"grid":true,"zindex":1,"labelFlush":false}},
"y":{"field":"v","type":"quantitative","scale":{"domain":[-12,12],"nice":false,"zero":false},"axis":{"values":[-12,-10,-8,-6,-4,-2,0,2,4,6,8,10,12],"tickCount":100,"format":"d","labelExpr":"datum.value%4==0?datum.label:''","title":"Rate of Improvement [%]","labelOverlap":false,"grid":true,"zindex":1}},
"color":{"field":"r","type":"nominal","scale":{"domain":["G","T","N","S"],"range":["#2ac42a","#ec2727","#b8962e","#2b7ddf"]},"legend":null}},
"layer":[
{"mark":{"type":"errorbar","ticks":true,"size":7,"thickness":1,"opacity":0.55,"clip":true},"encoding":{"yError":{"field":"e"}}},
{"mark":{"type":"line","strokeWidth":3,"clip":true}},
{"transform":[{"filter":"datum.m==1"}],"mark":{"type":"circle","size":85,"opacity":1,"clip":true}}]},
{"data":{"values":[{}]},"mark":{"type":"rect","fill":null,"stroke":"#111","strokeWidth":2.5},"encoding":{"x":{"datum":0,"type":"quantitative"},"x2":{"datum":264},"y":{"datum":-12,"type":"quantitative"},"y2":{"datum":12}}}
]},
{"width":277,"height":213,"layer":[
{"data":{"values":[{}]},"mark":{"type":"rect","fill":"#fdfac8"},"encoding":{"x":{"datum":0,"type":"quantitative"},"x2":{"datum":264},"y":{"datum":12,"type":"quantitative"},"y2":{"datum":0}}},
{"data":{"values":[{}]},"mark":{"type":"rect","fill":"#e3e4e8"},"encoding":{"x":{"datum":0,"type":"quantitative"},"x2":{"datum":264},"y":{"datum":0,"type":"quantitative"},"y2":{"datum":-12}}},
{"data":{"values":[{}]},"mark":{"type":"rule","color":"#222","strokeWidth":2},"encoding":{"x":{"datum":0,"type":"quantitative"},"x2":{"datum":264},"y":{"datum":0,"type":"quantitative"}}},
{"data":{"name":"d"},"transform":[{"filter":"datum.s=='S'&&datum.p=='T850'"}],
"encoding":{"x":{"field":"t","type":"quantitative","scale":{"domain":[0,264],"nice":false,"zero":false},"axis":{"values":[0,24,48,72,96,120,144,168,192,216,240,264],"tickCount":100,"format":"d","labelExpr":"datum.value%72==0?datum.label:''","title":null,"labelOverlap":false,"grid":true,"zindex":1,"labelFlush":false}},
"y":{"field":"v","type":"quantitative","scale":{"domain":[-12,12],"nice":false,"zero":false},"axis":{"values":[-12,-10,-8,-6,-4,-2,0,2,4,6,8,10,12],"tickCount":100,"format":"d","labelExpr":"datum.value%4==0?datum.label:''","title":null,"labelOverlap":false,"grid":true,"zindex":1}},
"color":{"field":"r","type":"nominal","scale":{"domain":["G","T","N","S"],"range":["#2ac42a","#ec2727","#b8962e","#2b7ddf"]},"legend":null}},
"layer":[
{"mark":{"type":"errorbar","ticks":true,"size":7,"thickness":1,"opacity":0.55,"clip":true},"encoding":{"yError":{"field":"e"}}},
{"mark":{"type":"line","strokeWidth":3,"clip":true}},
{"transform":[{"filter":"datum.m==1"}],"mark":{"type":"circle","size":85,"opacity":1,"clip":true}}]},
{"data":{"values":[{}]},"mark":{"type":"rect","fill":null,"stroke":"#111","strokeWidth":2.5},"encoding":{"x":{"datum":0,"type":"quantitative"},"x2":{"datum":264},"y":{"datum":-12,"type":"quantitative"},"y2":{"datum":12}}}
]},
{"width":277,"height":213,"layer":[
{"data":{"values":[{}]},"mark":{"type":"rect","fill":"#fdfac8"},"encoding":{"x":{"datum":0,"type":"quantitative"},"x2":{"datum":264},"y":{"datum":12,"type":"quantitative"},"y2":{"datum":0}}},
{"data":{"values":[{}]},"mark":{"type":"rect","fill":"#e3e4e8"},"encoding":{"x":{"datum":0,"type":"quantitative"},"x2":{"datum":264},"y":{"datum":0,"type":"quantitative"},"y2":{"datum":-12}}},
{"data":{"values":[{}]},"mark":{"type":"rule","color":"#222","strokeWidth":2},"encoding":{"x":{"datum":0,"type":"quantitative"},"x2":{"datum":264},"y":{"datum":0,"type":"quantitative"}}},
{"data":{"name":"d"},"transform":[{"filter":"datum.s=='S'&&datum.p=='Z500'"}],
"encoding":{"x":{"field":"t","type":"quantitative","scale":{"domain":[0,264],"nice":false,"zero":false},"axis":{"values":[0,24,48,72,96,120,144,168,192,216,240,264],"tickCount":100,"format":"d","labelExpr":"datum.value%72==0?datum.label:''","title":null,"labelOverlap":false,"grid":true,"zindex":1,"labelFlush":false}},
"y":{"field":"v","type":"quantitative","scale":{"domain":[-12,12],"nice":false,"zero":false},"axis":{"values":[-12,-10,-8,-6,-4,-2,0,2,4,6,8,10,12],"tickCount":100,"format":"d","labelExpr":"datum.value%4==0?datum.label:''","title":null,"labelOverlap":false,"grid":true,"zindex":1}},
"color":{"field":"r","type":"nominal","scale":{"domain":["G","T","N","S"],"range":["#2ac42a","#ec2727","#b8962e","#2b7ddf"]},"legend":null}},
"layer":[
{"mark":{"type":"errorbar","ticks":true,"size":7,"thickness":1,"opacity":0.55,"clip":true},"encoding":{"yError":{"field":"e"}}},
{"mark":{"type":"line","strokeWidth":3,"clip":true}},
{"transform":[{"filter":"datum.m==1"}],"mark":{"type":"circle","size":85,"opacity":1,"clip":true}}]},
{"data":{"values":[{}]},"mark":{"type":"rect","fill":null,"stroke":"#111","strokeWidth":2.5},"encoding":{"x":{"datum":0,"type":"quantitative"},"x2":{"datum":264},"y":{"datum":-12,"type":"quantitative"},"y2":{"datum":12}}}
]},
{"width":277,"height":213,"layer":[
{"data":{"values":[{}]},"mark":{"type":"rect","fill":"#fdfac8"},"encoding":{"x":{"datum":0,"type":"quantitative"},"x2":{"datum":264},"y":{"datum":12,"type":"quantitative"},"y2":{"datum":0}}},
{"data":{"values":[{}]},"mark":{"type":"rect","fill":"#e3e4e8"},"encoding":{"x":{"datum":0,"type":"quantitative"},"x2":{"datum":264},"y":{"datum":0,"type":"quantitative"},"y2":{"datum":-12}}},
{"data":{"values":[{}]},"mark":{"type":"rule","color":"#222","strokeWidth":2},"encoding":{"x":{"datum":0,"type":"quantitative"},"x2":{"datum":264},"y":{"datum":0,"type":"quantitative"}}},
{"data":{"name":"d"},"transform":[{"filter":"datum.s=='S'&&datum.p=='W850'"}],
"encoding":{"x":{"field":"t","type":"quantitative","scale":{"domain":[0,264],"nice":false,"zero":false},"axis":{"values":[0,24,48,72,96,120,144,168,192,216,240,264],"tickCount":100,"format":"d","labelExpr":"datum.value%72==0?datum.label:''","title":null,"labelOverlap":false,"grid":true,"zindex":1,"labelFlush":false}},
"y":{"field":"v","type":"quantitative","scale":{"domain":[-12,12],"nice":false,"zero":false},"axis":{"values":[-12,-10,-8,-6,-4,-2,0,2,4,6,8,10,12],"tickCount":100,"format":"d","labelExpr":"datum.value%4==0?datum.label:''","title":null,"labelOverlap":false,"grid":true,"zindex":1}},
"color":{"field":"r","type":"nominal","scale":{"domain":["G","T","N","S"],"range":["#2ac42a","#ec2727","#b8962e","#2b7ddf"]},"legend":null}},
"layer":[
{"mark":{"type":"errorbar","ticks":true,"size":7,"thickness":1,"opacity":0.55,"clip":true},"encoding":{"yError":{"field":"e"}}},
{"mark":{"type":"line","strokeWidth":3,"clip":true}},
{"transform":[{"filter":"datum.m==1"}],"mark":{"type":"circle","size":85,"opacity":1,"clip":true}}]},
{"data":{"values":[{}]},"mark":{"type":"rect","fill":null,"stroke":"#111","strokeWidth":2.5},"encoding":{"x":{"datum":0,"type":"quantitative"},"x2":{"datum":264},"y":{"datum":-12,"type":"quantitative"},"y2":{"datum":12}}}
]},
{"width":277,"height":213,"layer":[
{"data":{"values":[{}]},"mark":{"type":"rect","fill":"#fdfac8"},"encoding":{"x":{"datum":0,"type":"quantitative"},"x2":{"datum":264},"y":{"datum":12,"type":"quantitative"},"y2":{"datum":0}}},
{"data":{"values":[{}]},"mark":{"type":"rect","fill":"#e3e4e8"},"encoding":{"x":{"datum":0,"type":"quantitative"},"x2":{"datum":264},"y":{"datum":0,"type":"quantitative"},"y2":{"datum":-12}}},
{"data":{"values":[{}]},"mark":{"type":"rule","color":"#222","strokeWidth":2},"encoding":{"x":{"datum":0,"type":"quantitative"},"x2":{"datum":264},"y":{"datum":0,"type":"quantitative"}}},
{"data":{"name":"d"},"transform":[{"filter":"datum.s=='S'&&datum.p=='W250'"}],
"encoding":{"x":{"field":"t","type":"quantitative","scale":{"domain":[0,264],"nice":false,"zero":false},"axis":{"values":[0,24,48,72,96,120,144,168,192,216,240,264],"tickCount":100,"format":"d","labelExpr":"datum.value%72==0?datum.label:''","title":null,"labelOverlap":false,"grid":true,"zindex":1,"labelFlush":false}},
"y":{"field":"v","type":"quantitative","scale":{"domain":[-12,12],"nice":false,"zero":false},"axis":{"values":[-12,-10,-8,-6,-4,-2,0,2,4,6,8,10,12],"tickCount":100,"format":"d","labelExpr":"datum.value%4==0?datum.label:''","title":null,"labelOverlap":false,"grid":true,"zindex":1}},
"color":{"field":"r","type":"nominal","scale":{"domain":["G","T","N","S"],"range":["#2ac42a","#ec2727","#b8962e","#2b7ddf"]},"legend":null}},
"layer":[
{"mark":{"type":"errorbar","ticks":true,"size":7,"thickness":1,"opacity":0.55,"clip":true},"encoding":{"yError":{"field":"e"}}},
{"mark":{"type":"line","strokeWidth":3,"clip":true}},
{"transform":[{"filter":"datum.m==1"}],"mark":{"type":"circle","size":85,"opacity":1,"clip":true}}]},
{"data":{"values":[{}]},"mark":{"type":"rect","fill":null,"stroke":"#111","strokeWidth":2.5},"encoding":{"x":{"datum":0,"type":"quantitative"},"x2":{"datum":264},"y":{"datum":-12,"type":"quantitative"},"y2":{"datum":12}}}
]},
 {"width":20,"height":213,"data":{"values":[{}]},
   "layer":[
    {"mark":{"type":"rect","fill":{"gradient":"linear","x1":0,"y1":0,"x2":0,"y2":1,"stops":[{"offset":0,"color":"#ff9c9c"},{"offset":1,"color":"#ff1414"}]}},"encoding":{"x":{"datum":-0.53,"type":"quantitative","scale":{"domain":[0.1917,0.8583]},"axis":null},"x2":{"datum":0.5},"y":{"datum":7.8,"type":"quantitative","scale":{"domain":[-12,12],"nice":false,"zero":false},"axis":null},"y2":{"datum":0}}},
    {"mark":{"type":"rect","fill":{"gradient":"linear","x1":0,"y1":0,"x2":0,"y2":1,"stops":[{"offset":0,"color":"#0a12ee"},{"offset":1,"color":"#3a8cff"}]}},"encoding":{"x":{"datum":-0.53},"x2":{"datum":0.5},"y":{"datum":0},"y2":{"datum":-8.4}}},
    {"mark":{"type":"point","shape":"M-1,0.93L1,0.93L0,-0.93Z","size":3481,"filled":true,"fill":"#f98e8e","stroke":null,"opacity":1},"encoding":{"x":{"datum":0},"y":{"datum":10.8}}},
    {"mark":{"type":"point","shape":"M-1,-0.95L1,-0.95L0,0.95Z","size":3481,"filled":true,"fill":{"gradient":"linear","x1":0,"y1":0,"x2":0,"y2":1,"stops":[{"offset":0,"color":"#3c8dff"},{"offset":1,"color":"#5aaaff"}]},"stroke":null,"opacity":1},"encoding":{"x":{"datum":0},"y":{"datum":-11.6}}},
    {"mark":{"type":"text","text":"Better","angle":270,"fontSize":30,"color":"#000","baseline":"middle","align":"center"},"encoding":{"x":{"datum":-0.03},"y":{"datum":5.5}}},
    {"mark":{"type":"text","text":"Worse","angle":270,"fontSize":30,"fontWeight":"bold","color":"#000","baseline":"middle","align":"center"},"encoding":{"x":{"datum":0.95},"y":{"datum":-5.8}}}
   ]}
 ],"spacing":41.75,"bounds":"flush"},
 {"hconcat":[
 {"width":210.25,"height":210,"view":{"fill":"#f4f6fa"},"data":{"name":"lab"},"transform":[{"filter":"datum.season=='Winter'"}],
  "mark":{"type":"text","align":"left","baseline":"middle","fontSize":32,"lineHeight":39,"lineBreak":"\n","dx":10,"dy":-10,"color":"#000"},
  "encoding":{"x":{"datum":0,"type":"quantitative","scale":{"domain":[0,1]},"axis":null},"text":{"field":"txt"}}},
{"width":277,"height":210,"layer":[
{"data":{"values":[{}]},"mark":{"type":"rect","fill":"#fdfac8"},"encoding":{"x":{"datum":0,"type":"quantitative"},"x2":{"datum":264},"y":{"datum":12,"type":"quantitative"},"y2":{"datum":0}}},
{"data":{"values":[{}]},"mark":{"type":"rect","fill":"#e3e4e8"},"encoding":{"x":{"datum":0,"type":"quantitative"},"x2":{"datum":264},"y":{"datum":0,"type":"quantitative"},"y2":{"datum":-12}}},
{"data":{"values":[{}]},"mark":{"type":"rule","color":"#222","strokeWidth":2},"encoding":{"x":{"datum":0,"type":"quantitative"},"x2":{"datum":264},"y":{"datum":0,"type":"quantitative"}}},
{"data":{"name":"d"},"transform":[{"filter":"datum.s=='W'&&datum.p=='Psea'"}],
"encoding":{"x":{"field":"t","type":"quantitative","scale":{"domain":[0,264],"nice":false,"zero":false},"axis":{"values":[0,24,48,72,96,120,144,168,192,216,240,264],"tickCount":100,"format":"d","labelExpr":"datum.value%72==0?datum.label:''","title":"Psea","labelOverlap":false,"grid":true,"zindex":1,"labelFlush":false}},
"y":{"field":"v","type":"quantitative","scale":{"domain":[-12,12],"nice":false,"zero":false},"axis":{"values":[-12,-10,-8,-6,-4,-2,0,2,4,6,8,10,12],"tickCount":100,"format":"d","labelExpr":"datum.value%4==0?datum.label:''","title":"Rate of Improvement [%]","labelOverlap":false,"grid":true,"zindex":1}},
"color":{"field":"r","type":"nominal","scale":{"domain":["G","T","N","S"],"range":["#2ac42a","#ec2727","#b8962e","#2b7ddf"]},"legend":null}},
"layer":[
{"mark":{"type":"errorbar","ticks":true,"size":7,"thickness":1,"opacity":0.55,"clip":true},"encoding":{"yError":{"field":"e"}}},
{"mark":{"type":"line","strokeWidth":3,"clip":true}},
{"transform":[{"filter":"datum.m==1"}],"mark":{"type":"circle","size":85,"opacity":1,"clip":true}}]},
{"data":{"values":[{}]},"mark":{"type":"rect","fill":null,"stroke":"#111","strokeWidth":2.5},"encoding":{"x":{"datum":0,"type":"quantitative"},"x2":{"datum":264},"y":{"datum":-12,"type":"quantitative"},"y2":{"datum":12}}}
]},
{"width":277,"height":210,"layer":[
{"data":{"values":[{}]},"mark":{"type":"rect","fill":"#fdfac8"},"encoding":{"x":{"datum":0,"type":"quantitative"},"x2":{"datum":264},"y":{"datum":12,"type":"quantitative"},"y2":{"datum":0}}},
{"data":{"values":[{}]},"mark":{"type":"rect","fill":"#e3e4e8"},"encoding":{"x":{"datum":0,"type":"quantitative"},"x2":{"datum":264},"y":{"datum":0,"type":"quantitative"},"y2":{"datum":-12}}},
{"data":{"values":[{}]},"mark":{"type":"rule","color":"#222","strokeWidth":2},"encoding":{"x":{"datum":0,"type":"quantitative"},"x2":{"datum":264},"y":{"datum":0,"type":"quantitative"}}},
{"data":{"name":"d"},"transform":[{"filter":"datum.s=='W'&&datum.p=='T850'"}],
"encoding":{"x":{"field":"t","type":"quantitative","scale":{"domain":[0,264],"nice":false,"zero":false},"axis":{"values":[0,24,48,72,96,120,144,168,192,216,240,264],"tickCount":100,"format":"d","labelExpr":"datum.value%72==0?datum.label:''","title":"T850","labelOverlap":false,"grid":true,"zindex":1,"labelFlush":false}},
"y":{"field":"v","type":"quantitative","scale":{"domain":[-12,12],"nice":false,"zero":false},"axis":{"values":[-12,-10,-8,-6,-4,-2,0,2,4,6,8,10,12],"tickCount":100,"format":"d","labelExpr":"datum.value%4==0?datum.label:''","title":null,"labelOverlap":false,"grid":true,"zindex":1}},
"color":{"field":"r","type":"nominal","scale":{"domain":["G","T","N","S"],"range":["#2ac42a","#ec2727","#b8962e","#2b7ddf"]},"legend":null}},
"layer":[
{"mark":{"type":"errorbar","ticks":true,"size":7,"thickness":1,"opacity":0.55,"clip":true},"encoding":{"yError":{"field":"e"}}},
{"mark":{"type":"line","strokeWidth":3,"clip":true}},
{"transform":[{"filter":"datum.m==1"}],"mark":{"type":"circle","size":85,"opacity":1,"clip":true}}]},
{"data":{"values":[{}]},"mark":{"type":"rect","fill":null,"stroke":"#111","strokeWidth":2.5},"encoding":{"x":{"datum":0,"type":"quantitative"},"x2":{"datum":264},"y":{"datum":-12,"type":"quantitative"},"y2":{"datum":12}}}
]},
{"width":277,"height":210,"layer":[
{"data":{"values":[{}]},"mark":{"type":"rect","fill":"#fdfac8"},"encoding":{"x":{"datum":0,"type":"quantitative"},"x2":{"datum":264},"y":{"datum":12,"type":"quantitative"},"y2":{"datum":0}}},
{"data":{"values":[{}]},"mark":{"type":"rect","fill":"#e3e4e8"},"encoding":{"x":{"datum":0,"type":"quantitative"},"x2":{"datum":264},"y":{"datum":0,"type":"quantitative"},"y2":{"datum":-12}}},
{"data":{"values":[{}]},"mark":{"type":"rule","color":"#222","strokeWidth":2},"encoding":{"x":{"datum":0,"type":"quantitative"},"x2":{"datum":264},"y":{"datum":0,"type":"quantitative"}}},
{"data":{"name":"d"},"transform":[{"filter":"datum.s=='W'&&datum.p=='Z500'"}],
"encoding":{"x":{"field":"t","type":"quantitative","scale":{"domain":[0,264],"nice":false,"zero":false},"axis":{"values":[0,24,48,72,96,120,144,168,192,216,240,264],"tickCount":100,"format":"d","labelExpr":"datum.value%72==0?datum.label:''","title":"Z500","labelOverlap":false,"grid":true,"zindex":1,"labelFlush":false}},
"y":{"field":"v","type":"quantitative","scale":{"domain":[-12,12],"nice":false,"zero":false},"axis":{"values":[-12,-10,-8,-6,-4,-2,0,2,4,6,8,10,12],"tickCount":100,"format":"d","labelExpr":"datum.value%4==0?datum.label:''","title":null,"labelOverlap":false,"grid":true,"zindex":1}},
"color":{"field":"r","type":"nominal","scale":{"domain":["G","T","N","S"],"range":["#2ac42a","#ec2727","#b8962e","#2b7ddf"]},"legend":null}},
"layer":[
{"mark":{"type":"errorbar","ticks":true,"size":7,"thickness":1,"opacity":0.55,"clip":true},"encoding":{"yError":{"field":"e"}}},
{"mark":{"type":"line","strokeWidth":3,"clip":true}},
{"transform":[{"filter":"datum.m==1"}],"mark":{"type":"circle","size":85,"opacity":1,"clip":true}}]},
{"data":{"values":[{}]},"mark":{"type":"rect","fill":null,"stroke":"#111","strokeWidth":2.5},"encoding":{"x":{"datum":0,"type":"quantitative"},"x2":{"datum":264},"y":{"datum":-12,"type":"quantitative"},"y2":{"datum":12}}}
]},
{"width":277,"height":210,"layer":[
{"data":{"values":[{}]},"mark":{"type":"rect","fill":"#fdfac8"},"encoding":{"x":{"datum":0,"type":"quantitative"},"x2":{"datum":264},"y":{"datum":12,"type":"quantitative"},"y2":{"datum":0}}},
{"data":{"values":[{}]},"mark":{"type":"rect","fill":"#e3e4e8"},"encoding":{"x":{"datum":0,"type":"quantitative"},"x2":{"datum":264},"y":{"datum":0,"type":"quantitative"},"y2":{"datum":-12}}},
{"data":{"values":[{}]},"mark":{"type":"rule","color":"#222","strokeWidth":2},"encoding":{"x":{"datum":0,"type":"quantitative"},"x2":{"datum":264},"y":{"datum":0,"type":"quantitative"}}},
{"data":{"name":"d"},"transform":[{"filter":"datum.s=='W'&&datum.p=='W850'"}],
"encoding":{"x":{"field":"t","type":"quantitative","scale":{"domain":[0,264],"nice":false,"zero":false},"axis":{"values":[0,24,48,72,96,120,144,168,192,216,240,264],"tickCount":100,"format":"d","labelExpr":"datum.value%72==0?datum.label:''","title":"Wspd850","labelOverlap":false,"grid":true,"zindex":1,"labelFlush":false}},
"y":{"field":"v","type":"quantitative","scale":{"domain":[-12,12],"nice":false,"zero":false},"axis":{"values":[-12,-10,-8,-6,-4,-2,0,2,4,6,8,10,12],"tickCount":100,"format":"d","labelExpr":"datum.value%4==0?datum.label:''","title":null,"labelOverlap":false,"grid":true,"zindex":1}},
"color":{"field":"r","type":"nominal","scale":{"domain":["G","T","N","S"],"range":["#2ac42a","#ec2727","#b8962e","#2b7ddf"]},"legend":null}},
"layer":[
{"mark":{"type":"errorbar","ticks":true,"size":7,"thickness":1,"opacity":0.55,"clip":true},"encoding":{"yError":{"field":"e"}}},
{"mark":{"type":"line","strokeWidth":3,"clip":true}},
{"transform":[{"filter":"datum.m==1"}],"mark":{"type":"circle","size":85,"opacity":1,"clip":true}}]},
{"data":{"values":[{}]},"mark":{"type":"rect","fill":null,"stroke":"#111","strokeWidth":2.5},"encoding":{"x":{"datum":0,"type":"quantitative"},"x2":{"datum":264},"y":{"datum":-12,"type":"quantitative"},"y2":{"datum":12}}}
]},
{"width":277,"height":210,"layer":[
{"data":{"values":[{}]},"mark":{"type":"rect","fill":"#fdfac8"},"encoding":{"x":{"datum":0,"type":"quantitative"},"x2":{"datum":264},"y":{"datum":12,"type":"quantitative"},"y2":{"datum":0}}},
{"data":{"values":[{}]},"mark":{"type":"rect","fill":"#e3e4e8"},"encoding":{"x":{"datum":0,"type":"quantitative"},"x2":{"datum":264},"y":{"datum":0,"type":"quantitative"},"y2":{"datum":-12}}},
{"data":{"values":[{}]},"mark":{"type":"rule","color":"#222","strokeWidth":2},"encoding":{"x":{"datum":0,"type":"quantitative"},"x2":{"datum":264},"y":{"datum":0,"type":"quantitative"}}},
{"data":{"name":"d"},"transform":[{"filter":"datum.s=='W'&&datum.p=='W250'"}],
"encoding":{"x":{"field":"t","type":"quantitative","scale":{"domain":[0,264],"nice":false,"zero":false},"axis":{"values":[0,24,48,72,96,120,144,168,192,216,240,264],"tickCount":100,"format":"d","labelExpr":"datum.value%72==0?datum.label:''","title":"Wspd250","labelOverlap":false,"grid":true,"zindex":1,"labelFlush":false}},
"y":{"field":"v","type":"quantitative","scale":{"domain":[-12,12],"nice":false,"zero":false},"axis":{"values":[-12,-10,-8,-6,-4,-2,0,2,4,6,8,10,12],"tickCount":100,"format":"d","labelExpr":"datum.value%4==0?datum.label:''","title":null,"labelOverlap":false,"grid":true,"zindex":1}},
"color":{"field":"r","type":"nominal","scale":{"domain":["G","T","N","S"],"range":["#2ac42a","#ec2727","#b8962e","#2b7ddf"]},"legend":null}},
"layer":[
{"mark":{"type":"errorbar","ticks":true,"size":7,"thickness":1,"opacity":0.55,"clip":true},"encoding":{"yError":{"field":"e"}}},
{"mark":{"type":"line","strokeWidth":3,"clip":true}},
{"transform":[{"filter":"datum.m==1"}],"mark":{"type":"circle","size":85,"opacity":1,"clip":true}}]},
{"data":{"values":[{}]},"mark":{"type":"rect","fill":null,"stroke":"#111","strokeWidth":2.5},"encoding":{"x":{"datum":0,"type":"quantitative"},"x2":{"datum":264},"y":{"datum":-12,"type":"quantitative"},"y2":{"datum":12}}}
]},
 {"width":20,"height":210,"data":{"values":[{}]},
   "layer":[
    {"mark":{"type":"rect","fill":{"gradient":"linear","x1":0,"y1":0,"x2":0,"y2":1,"stops":[{"offset":0,"color":"#ff9c9c"},{"offset":1,"color":"#ff1414"}]}},"encoding":{"x":{"datum":-0.53,"type":"quantitative","scale":{"domain":[0.1917,0.8583]},"axis":null},"x2":{"datum":0.5},"y":{"datum":7.8,"type":"quantitative","scale":{"domain":[-12,12],"nice":false,"zero":false},"axis":null},"y2":{"datum":0}}},
    {"mark":{"type":"rect","fill":{"gradient":"linear","x1":0,"y1":0,"x2":0,"y2":1,"stops":[{"offset":0,"color":"#0a12ee"},{"offset":1,"color":"#3a8cff"}]}},"encoding":{"x":{"datum":-0.53},"x2":{"datum":0.5},"y":{"datum":0},"y2":{"datum":-8.4}}},
    {"mark":{"type":"point","shape":"M-1,0.93L1,0.93L0,-0.93Z","size":3481,"filled":true,"fill":"#f98e8e","stroke":null,"opacity":1},"encoding":{"x":{"datum":0},"y":{"datum":10.8}}},
    {"mark":{"type":"point","shape":"M-1,-0.95L1,-0.95L0,0.95Z","size":3481,"filled":true,"fill":{"gradient":"linear","x1":0,"y1":0,"x2":0,"y2":1,"stops":[{"offset":0,"color":"#3c8dff"},{"offset":1,"color":"#5aaaff"}]},"stroke":null,"opacity":1},"encoding":{"x":{"datum":0},"y":{"datum":-11.6}}},
    {"mark":{"type":"text","text":"Better","angle":270,"fontSize":30,"color":"#000","baseline":"middle","align":"center"},"encoding":{"x":{"datum":-0.03},"y":{"datum":5.5}}},
    {"mark":{"type":"text","text":"Worse","angle":270,"fontSize":30,"fontWeight":"bold","color":"#000","baseline":"middle","align":"center"},"encoding":{"x":{"datum":0.95},"y":{"datum":-5.8}}}
   ]}
 ],"spacing":41.75,"bounds":"flush"}
],"spacing":48.6}
],
"spacing":1.2
}
